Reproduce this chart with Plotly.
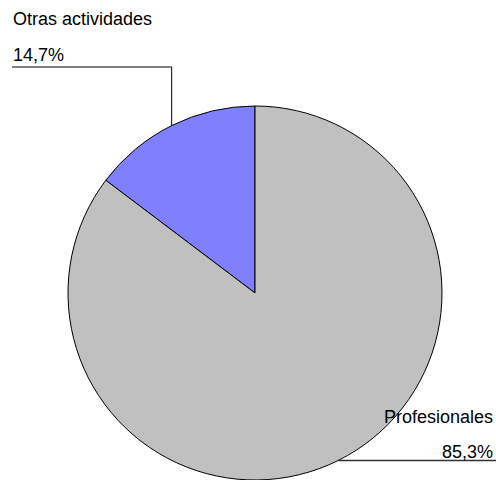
import math
import plotly.graph_objects as go

labels = ["Otras actividades", "Profesionales"]
values = [14.7, 85.3]
value_texts = ["14,7%", "85,3%"]
colors = ["#8080FF", "#C0C0C0"]

W, H = 496, 480
# pie geometry in pixels (top-origin)
cx, r = 255, 187
cy = H - r

total = sum(values)
start_deg = -values[0] / total * 360  # first slice ends at 12 o'clock

fig = go.Figure(go.Pie(
    labels=labels, values=values, sort=False, direction="clockwise",
    rotation=start_deg, textinfo="none", hoverinfo="label+percent",
    marker=dict(colors=colors, line=dict(color="#000000", width=1)),
    domain=dict(x=[(cx - 190) / W, (cx + 190) / W], y=[0, 2 * r / H]),
    showlegend=False,
))

def px(x):
    return x / W

def py(y):
    return 1 - y / H

a1 = 0.5 * values[0] / total * 2 * math.pi
a2 = (values[0] + 0.5 * values[1]) / total * 2 * math.pi
p1 = (cx - r * math.sin(a1), cy - r * math.cos(a1))
p2 = (cx - r * math.sin(a2), cy - r * math.cos(a2))

shapes = [
    dict(type="line", xref="paper", yref="paper", x0=px(p1[0]), y0=py(p1[1]),
         x1=px(p1[0]), y1=py(67), line=dict(color="#000000", width=1)),
    dict(type="line", xref="paper", yref="paper", x0=px(p1[0]), y0=py(67),
         x1=px(12), y1=py(67), line=dict(color="#000000", width=1)),
    dict(type="line", xref="paper", yref="paper", x0=px(p2[0]), y0=py(p2[1]),
         x1=px(W), y1=py(p2[1]), line=dict(color="#333333", width=1.5)),
]

font = dict(family="Liberation Sans, Arial, sans-serif", size=18, color="#000000")
annotations = [
    dict(text=labels[0], x=px(11), y=py(19), xref="paper", yref="paper",
         xanchor="left", yanchor="middle", showarrow=False, font=font),
    dict(text=value_texts[0], x=px(11), y=py(55), xref="paper", yref="paper",
         xanchor="left", yanchor="middle", showarrow=False, font=font),
    dict(text=labels[1], x=px(495), y=py(417), xref="paper", yref="paper",
         xanchor="right", yanchor="middle", showarrow=False, font=font),
    dict(text=value_texts[1], x=px(495), y=py(452), xref="paper", yref="paper",
         xanchor="right", yanchor="middle", showarrow=False, font=font),
]

fig.update_layout(
    width=W, height=H, margin=dict(l=0, r=0, t=0, b=0),
    paper_bgcolor="#FFFFFF", plot_bgcolor="#FFFFFF",
    shapes=shapes, annotations=annotations,
)

fig.write_html("out.html", config={"displayModeBar": False},
               post_script="document.body.style.margin='0';document.body.style.overflow='hidden';")
